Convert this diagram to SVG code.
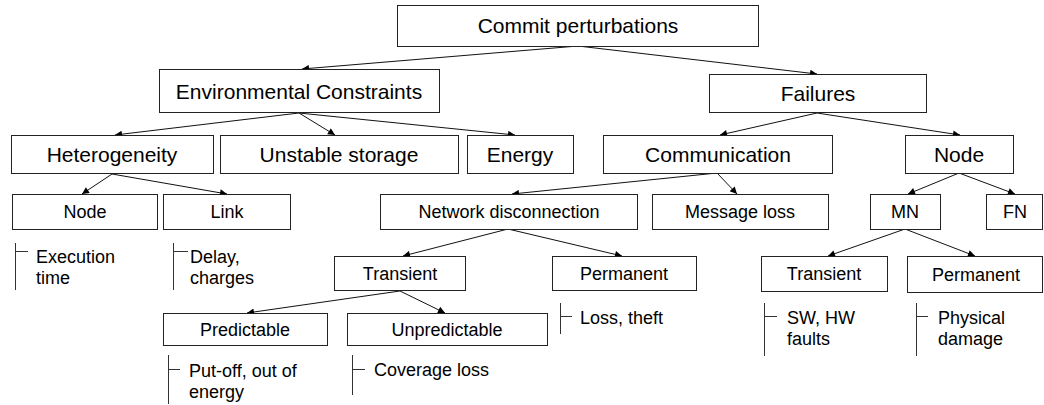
<svg xmlns="http://www.w3.org/2000/svg" width="1044" height="405" viewBox="0 0 1044 405">
<style>
.box{fill:#fff;stroke:#222;stroke-width:1}
.t1{font-family:"Liberation Sans",Arial,sans-serif;font-size:21px;fill:#000;text-anchor:middle}
.t2{font-family:"Liberation Sans",Arial,sans-serif;font-size:18px;fill:#000;text-anchor:middle}
.note{font-family:"Liberation Sans",Arial,sans-serif;font-size:18px;fill:#000}
.con{fill:none;stroke:#111;stroke-width:1;marker-end:url(#ah)}
.br{fill:none;stroke:#333;stroke-width:1}
</style>
<defs>
<marker id="ah" viewBox="0 0 10 10" refX="10" refY="5" markerWidth="10" markerHeight="7" markerUnits="userSpaceOnUse" orient="auto">
<path d="M0,0 L10,5 L0,10 z" fill="#000"/>
</marker>
</defs>
<rect width="1044" height="405" fill="#fff"/>
<g id="connectors">
<path class="con" d="M578,46 L302,69"/>
<path class="con" d="M578,46 L817,74"/>
<path class="con" d="M299,113 L115,135"/>
<path class="con" d="M299,113 L335,135"/>
<path class="con" d="M299,113 L515,135"/>
<path class="con" d="M817,113 L720,135"/>
<path class="con" d="M817,113 L960,135"/>
<path class="con" d="M112,174 L82,194"/>
<path class="con" d="M112,174 L227,194"/>
<path class="con" d="M717,173 L512,194"/>
<path class="con" d="M717,173 L737,194"/>
<path class="con" d="M959,173 L908,194"/>
<path class="con" d="M959,173 L1015,194"/>
<path class="con" d="M508,229 L403,256"/>
<path class="con" d="M508,229 L622,256"/>
<path class="con" d="M905,229 L828,256"/>
<path class="con" d="M905,229 L975,256"/>
<path class="con" d="M400,291 L247,313"/>
<path class="con" d="M400,291 L445,313"/>
</g>
<g id="n-commit"><rect class="box" x="397.5" y="5.5" width="361" height="41"/><text class="t1" x="578" y="33">Commit perturbations</text></g>
<g id="n-env"><rect class="box" x="159.5" y="69.5" width="280" height="43"/><text class="t1" x="299" y="98.5">Environmental Constraints</text></g>
<g id="n-failures"><rect class="box" x="709.5" y="74.5" width="217" height="38"/><text class="t1" x="818" y="101">Failures</text></g>
<g id="n-hetero"><rect class="box" x="11.5" y="135.5" width="202" height="38"/><text class="t1" x="112" y="162">Heterogeneity</text></g>
<g id="n-unstable"><rect class="box" x="220.5" y="135.5" width="238" height="38"/><text class="t1" x="339" y="162">Unstable storage</text></g>
<g id="n-energy"><rect class="box" x="467.5" y="135.5" width="106" height="38"/><text class="t1" x="520" y="162">Energy</text></g>
<g id="n-comm"><rect class="box" x="603.5" y="135.5" width="229" height="38"/><text class="t1" x="718" y="162">Communication</text></g>
<g id="n-node"><rect class="box" x="905.5" y="135.5" width="108" height="38"/><text class="t1" x="959" y="162">Node</text></g>
<g id="n-node2"><rect class="box" x="12.5" y="194.5" width="145" height="35"/><text class="t2" x="85" y="218">Node</text></g>
<g id="n-link"><rect class="box" x="163.5" y="194.5" width="127" height="35"/><text class="t2" x="227" y="218">Link</text></g>
<g id="n-netdisc"><rect class="box" x="380.5" y="194.5" width="257" height="35"/><text class="t2" x="509" y="218">Network disconnection</text></g>
<g id="n-msgloss"><rect class="box" x="652.5" y="194.5" width="176" height="35"/><text class="t2" x="740" y="218">Message loss</text></g>
<g id="n-mn"><rect class="box" x="870.5" y="194.5" width="70" height="35"/><text class="t2" x="905" y="218">MN</text></g>
<g id="n-fn"><rect class="box" x="986.5" y="194.5" width="56" height="35"/><text class="t2" x="1015" y="218">FN</text></g>
<g id="n-transient1"><rect class="box" x="334.5" y="256.5" width="131" height="34"/><text class="t2" x="400" y="280">Transient</text></g>
<g id="n-permanent1"><rect class="box" x="552.5" y="256.5" width="144" height="34"/><text class="t2" x="624" y="280">Permanent</text></g>
<g id="n-transient2"><rect class="box" x="761.5" y="256.5" width="126" height="35"/><text class="t2" x="824" y="280">Transient</text></g>
<g id="n-permanent2"><rect class="box" x="907.5" y="256.5" width="135" height="36"/><text class="t2" x="976" y="281">Permanent</text></g>
<g id="n-predictable"><rect class="box" x="163.5" y="313.5" width="164" height="32"/><text class="t2" x="245" y="336">Predictable</text></g>
<g id="n-unpredictable"><rect class="box" x="347.5" y="313.5" width="200" height="32"/><text class="t2" x="447" y="336">Unpredictable</text></g>
<g id="note-exec"><path class="br" d="M15.5,243 V290 M15.5,251.5 H28"/><text class="note" x="36" y="263">Execution</text><text class="note" x="36" y="284">time</text></g>
<g id="note-delay"><path class="br" d="M173.5,243 V290 M173.5,251.5 H188"/><text class="note" x="190" y="263">Delay,</text><text class="note" x="190" y="284">charges</text></g>
<g id="note-loss"><path class="br" d="M560.5,303 V334 M560.5,316.5 H572"/><text class="note" x="580" y="324">Loss, theft</text></g>
<g id="note-sw"><path class="br" d="M764.5,303 V356 M764.5,316.5 H777"/><text class="note" x="787" y="324">SW, HW</text><text class="note" x="787" y="345">faults</text></g>
<g id="note-phys"><path class="br" d="M916.5,303 V356 M916.5,316.5 H928"/><text class="note" x="938" y="324">Physical</text><text class="note" x="938" y="345">damage</text></g>
<g id="note-putoff"><path class="br" d="M168.5,355 V404 M168.5,369.5 H180"/><text class="note" x="189" y="377">Put-off, out of</text><text class="note" x="189" y="398">energy</text></g>
<g id="note-cov"><path class="br" d="M352.5,355 V395 M352.5,369.5 H365"/><text class="note" x="374" y="376">Coverage loss</text></g>
</svg>
